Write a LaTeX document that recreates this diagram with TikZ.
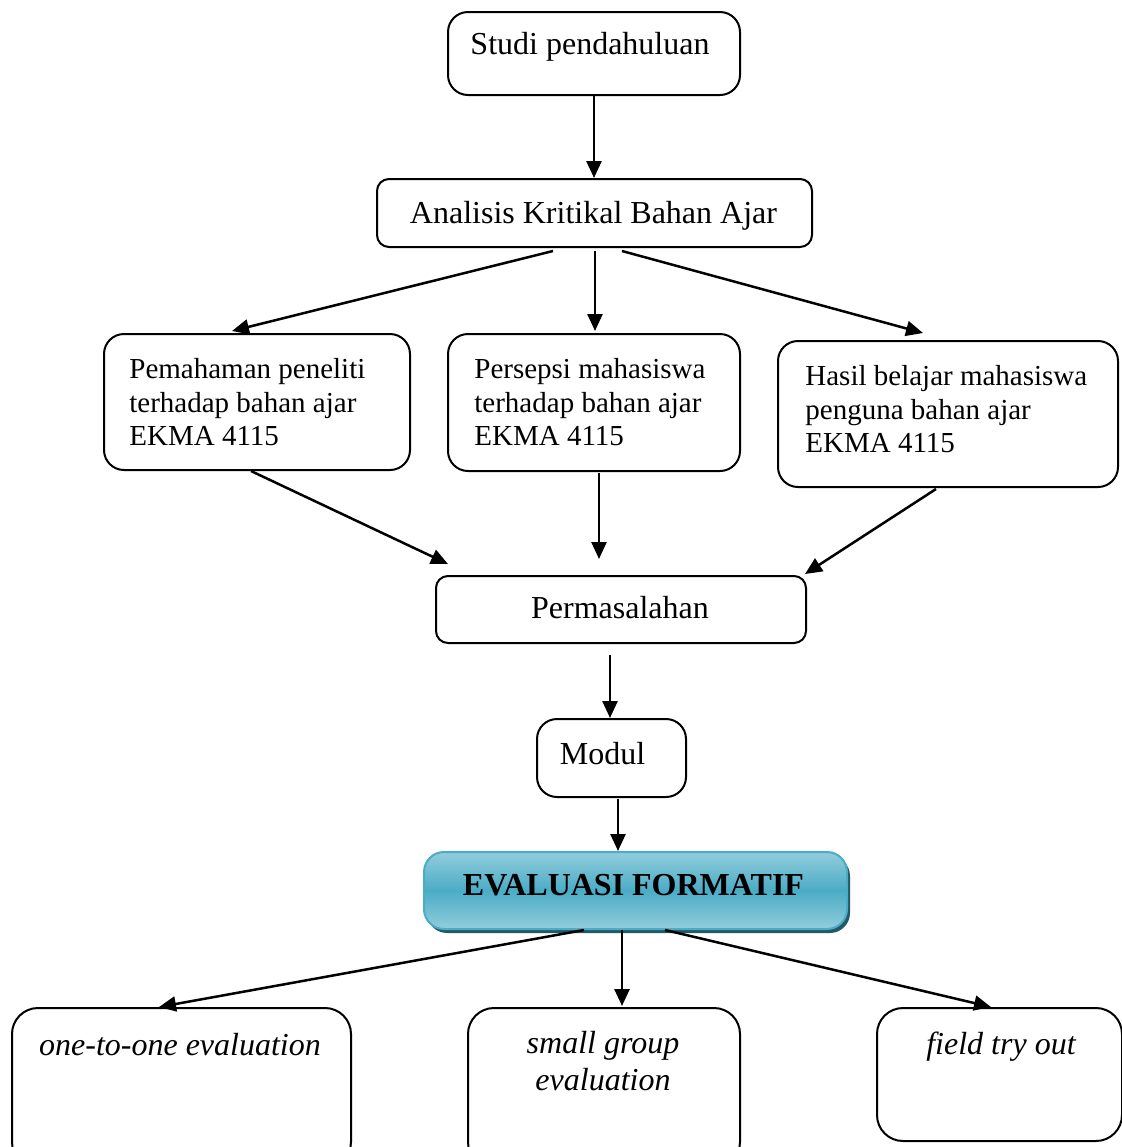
\documentclass[tikz,border=0pt]{standalone}
\usepackage{fontspec}
\setmainfont{Liberation Serif}
\usetikzlibrary{arrows.meta,calc,shadows}
\definecolor{evaborder}{HTML}{4BACC6}
\definecolor{evalight}{HTML}{92CDDC}
\definecolor{evamid}{HTML}{4BACC6}
\definecolor{evashadow}{HTML}{215968}
\begin{document}
\begin{tikzpicture}[x=0.5pt,y=-0.5pt,
  box/.style={draw=black, line width=1pt, rounded corners=10pt, inner sep=0pt, anchor=north west},
  bigfont/.style={font=\fontsize{16}{19}\selectfont},
  midfont/.style={font=\fontsize{14.5}{16.75}\selectfont, align=left},
  itfont/.style={font=\fontsize{16}{18.5}\selectfont\itshape, align=center},
  arr/.style={line width=1.25pt, -{Triangle[length=8.5pt,width=7.5pt]}}]
\useasboundingbox (0,0) rectangle (1122,1147);
% boxes
\node[box, minimum width=146pt, minimum height=41.5pt] (studi) at (447,11) {};
\node[box, rounded corners=6pt, minimum width=217.5pt, minimum height=34pt] (ana) at (376,178) {};
\node[box, minimum width=153pt, minimum height=68pt] (pem) at (103,333) {};
\node[box, minimum width=146pt, minimum height=68.5pt] (per) at (447,333) {};
\node[box, minimum width=170pt, minimum height=73pt] (has) at (777,340) {};
\node[box, rounded corners=6pt, minimum width=185pt, minimum height=33.5pt] (mas) at (435,575) {};
\node[box, minimum width=74.5pt, minimum height=39pt] (mod) at (536,718) {};
\node[anchor=north west, inner sep=0pt, minimum width=211.5pt, minimum height=38.5pt,
  rounded corners=10pt, draw=evaborder, line width=1pt,
  top color=evalight, bottom color=evalight, middle color=evamid,
  drop shadow={shadow xshift=1.5pt, shadow yshift=-2pt, fill=evashadow, opacity=1}] (eva) at (423,851) {};
\node[box, rounded corners=13pt, minimum width=169.5pt, minimum height=80pt] (one) at (11,1007) {};
\node[box, rounded corners=13pt, minimum width=136pt, minimum height=80pt] (sg) at (467,1007) {};
\node[box, rounded corners=13pt, minimum width=122.5pt, minimum height=66.5pt] (fto) at (876,1007) {};
% texts
\node[bigfont, anchor=base, inner sep=0pt] (t1) at (590,54) {Studi pendahuluan};
\node[bigfont, anchor=base, inner sep=0pt] (t2) at (593.5,223) {Analisis Kritikal Bahan Ajar};
\node[midfont, anchor=north west, inner sep=0pt] (t3) at (129,358) {Pemahaman peneliti\\terhadap bahan ajar\\EKMA 4115};
\node[midfont, anchor=north west, inner sep=0pt] (t4) at (474,358) {Persepsi mahasiswa\\terhadap bahan ajar\\EKMA 4115};
\node[midfont, anchor=north west, inner sep=0pt] (t5) at (805,365) {Hasil belajar mahasiswa\\penguna bahan ajar\\EKMA 4115};
\node[bigfont, anchor=base, inner sep=0pt] (t6) at (620,618) {Permasalahan};
\node[bigfont, anchor=base, inner sep=0pt] (t7) at (602.5,764) {Modul};
\node[bigfont, font=\fontsize{16}{19}\selectfont\bfseries, anchor=base, inner sep=0pt] (t8) at (633.5,895) {EVALUASI FORMATIF};
\node[itfont, anchor=base, inner sep=0pt] (t9) at (180,1055) {one-to-one evaluation};
\node[itfont, anchor=north, inner sep=0pt] (t10) at (603,1031) {small group\\evaluation};
\node[itfont, anchor=base, inner sep=0pt] (t11) at (1001,1054) {field try out};
% arrows
\draw[arr] (studi.south) -- (studi.south |- ana.north);
\draw[arr] ($(ana.south)+(-41.5,3)$) -- ($(pem.north)+(-25,-2)$);
\draw[arr] ($(ana.south)+(0.5,3)$) -- ($(per.north)+(1,-2)$);
\draw[arr] ($(ana.south)+(27.5,3)$) -- ($(has.north)+(-25,-7)$);
\draw[arr] ($(pem.south)+(-6,0)$) -- ($(mas.north)+(-173,-11)$);
\draw[arr] ($(per.south)+(5,1)$) -- ($(mas.north)+(-22,-16)$);
\draw[arr] ($(has.south)+(-12,1)$) -- ($(mas.north east)+(-2,-1)$);
\draw[arr] ($(mas.south)+(-11,11)$) -- ($(mod.north)+(-1.5,0)$);
\draw[arr] ($(mod.south)+(6.5,1)$) -- ($(eva.north)+(-17.5,0)$);
\draw[arr] ($(eva.south)+(-51.5,0)$) -- ($(one.north)+(-22.5,0)$);
\draw[arr] ($(eva.south)+(-13.5,0)$) -- ($(sg.north)+(18,-1)$);
\draw[arr] ($(eva.south)+(29.5,0)$) -- ($(fto.north)+(-8.5,0)$);
\end{tikzpicture}
\end{document}
